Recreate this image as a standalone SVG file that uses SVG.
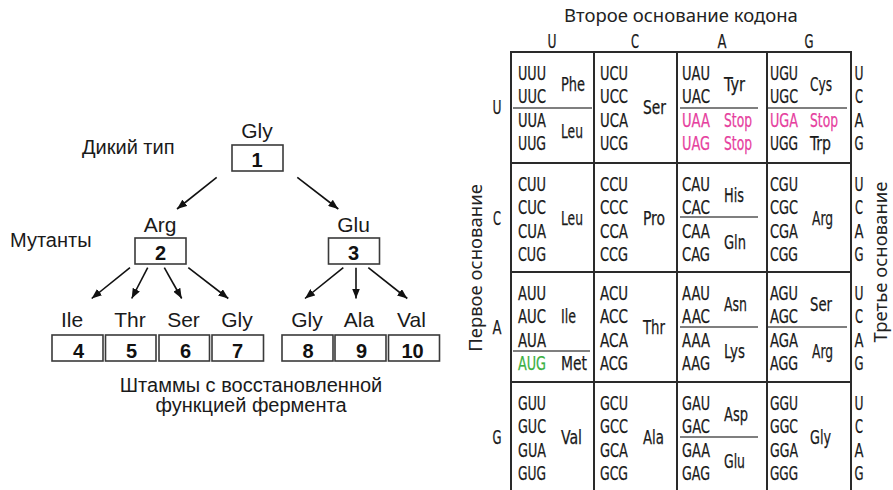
<svg xmlns="http://www.w3.org/2000/svg" width="893" height="490" viewBox="0 0 893 490">
<defs>
<marker id="ah" markerWidth="10" markerHeight="8" refX="10" refY="4" orient="auto" markerUnits="userSpaceOnUse"><path d="M0,0 L10,4 L0,8 z" fill="#111"/></marker>
<style>
.lb{font-family:"Liberation Sans",Arial,sans-serif;font-size:20px;fill:#1a1a1a}
.aa{font-family:"Liberation Sans",Arial,sans-serif;font-size:21px;fill:#1a1a1a;text-anchor:middle}
.num{font-family:"Liberation Sans",Arial,sans-serif;font-size:20px;font-weight:bold;fill:#111;text-anchor:middle}
.box{fill:#fff;stroke:#3a3a3a;stroke-width:1.6}
.con line{stroke:#111;stroke-width:1.6;marker-end:url(#ah)}
.ttl{font-family:"Noto Sans","Open Sans",sans-serif;font-size:18.5px;fill:#222}
.grid{stroke:#2a2a2a;stroke-width:2;fill:none}
.sep{stroke:#555;stroke-width:1.5}
.c{font-family:"Liberation Sans Narrow","DejaVu Sans Condensed","DejaVu Sans",sans-serif;font-stretch:condensed;font-size:19.5px;fill:#1a1a1a;stroke:#1a1a1a;stroke-width:0.25}
.m{fill:#e6409e;stroke:#e6409e}
.g{fill:#3cb043;stroke:#3cb043}
.mid{text-anchor:middle}
</style>
</defs>

<!-- Tree -->
<text class="lb" x="82" y="154">Дикий тип</text>
<text class="lb" x="10" y="246.5">Мутанты</text>
<text class="lb" x="251" y="391.5" text-anchor="middle">Штаммы с восстановленной</text>
<text class="lb" x="251" y="411.5" text-anchor="middle">функцией фермента</text>

<g id="n1"><text class="aa" x="257" y="138">Gly</text><rect class="box" x="232" y="145" width="51" height="26"/><text class="num" x="257" y="166.5">1</text></g>
<g id="n2"><text class="aa" x="160" y="231.5">Arg</text><rect class="box" x="135" y="238" width="51" height="26"/><text class="num" x="160.5" y="259.5">2</text></g>
<g id="n3"><text class="aa" x="353.5" y="231.5">Glu</text><rect class="box" x="328.5" y="238" width="51" height="26"/><text class="num" x="353.5" y="259.5">3</text></g>
<g id="n4"><text class="aa" x="72" y="327">Ile</text><rect class="box" x="52" y="335" width="51" height="26"/><text class="num" x="78.5" y="357.5">4</text></g>
<g id="n5"><text class="aa" x="130" y="327">Thr</text><rect class="box" x="105.5" y="335" width="50.5" height="26"/><text class="num" x="131.5" y="357.5">5</text></g>
<g id="n6"><text class="aa" x="183.5" y="327">Ser</text><rect class="box" x="159" y="335" width="50.5" height="26"/><text class="num" x="185.5" y="357.5">6</text></g>
<g id="n7"><text class="aa" x="237" y="327">Gly</text><rect class="box" x="212" y="335" width="51.5" height="26"/><text class="num" x="237.5" y="357.5">7</text></g>
<g id="n8"><text class="aa" x="307" y="327">Gly</text><rect class="box" x="282" y="335" width="51" height="26"/><text class="num" x="308" y="357.5">8</text></g>
<g id="n9"><text class="aa" x="359" y="327">Ala</text><rect class="box" x="335" y="335" width="51" height="26"/><text class="num" x="361.5" y="357.5">9</text></g>
<g id="n10"><text class="aa" x="411.5" y="327">Val</text><rect class="box" x="388.5" y="335" width="51" height="26"/><text class="num" x="412.5" y="357.5">10</text></g>

<g id="connectors" class="con">
<line x1="216.7" y1="177.3" x2="177" y2="209"/>
<line x1="297.3" y1="177.3" x2="338.3" y2="209"/>
<line x1="130" y1="267.7" x2="91.7" y2="298.5"/>
<line x1="147.7" y1="267.7" x2="131.7" y2="298.5"/>
<line x1="164.3" y1="267.7" x2="181.7" y2="298.5"/>
<line x1="188.3" y1="267.7" x2="228.3" y2="298.5"/>
<line x1="343.3" y1="267.7" x2="305" y2="298.5"/>
<line x1="356" y1="267.7" x2="356" y2="298.5"/>
<line x1="368.3" y1="267.7" x2="407.3" y2="298.5"/>
</g>

<!-- Codon table -->
<g id="table">
<text class="ttl" x="681" y="22" text-anchor="middle">Второе основание кодона</text>
<text class="ttl" transform="translate(482,268) rotate(-90)" text-anchor="middle">Первое основание</text>
<text class="ttl" transform="translate(887,262) rotate(-90)" text-anchor="middle">Третье основание</text>

<path class="grid" d="M511,490 V52 H851 V490 M594,52 V490 M677,52 V490 M767,52 V490 M511,163 H851 M511,272 H851 M511,382 H851"/>
<path class="sep" d="M513,108 H592 M680,108 H758 M768,108 H847 M680,217 H758 M513,351 H590 M680,327 H758 M768,327 H847 M680,437 H758"/>

<g class="c mid">
<text x="552" y="48" textLength="9" lengthAdjust="spacingAndGlyphs">U</text><text x="635" y="48" textLength="8" lengthAdjust="spacingAndGlyphs">C</text><text x="722" y="48" textLength="9" lengthAdjust="spacingAndGlyphs">A</text><text x="809" y="48" textLength="9" lengthAdjust="spacingAndGlyphs">G</text>
<text x="497" y="114" textLength="9" lengthAdjust="spacingAndGlyphs">U</text><text x="497" y="225" textLength="8" lengthAdjust="spacingAndGlyphs">C</text><text x="497" y="334" textLength="9" lengthAdjust="spacingAndGlyphs">A</text><text x="497" y="444" textLength="9" lengthAdjust="spacingAndGlyphs">G</text>
<text x="859" y="80" textLength="9" lengthAdjust="spacingAndGlyphs">U</text><text x="859" y="103" textLength="8" lengthAdjust="spacingAndGlyphs">C</text><text x="859" y="126.5" textLength="9" lengthAdjust="spacingAndGlyphs">A</text><text x="859" y="150" textLength="9" lengthAdjust="spacingAndGlyphs">G</text>
<text x="859" y="191" textLength="9" lengthAdjust="spacingAndGlyphs">U</text><text x="859" y="214" textLength="8" lengthAdjust="spacingAndGlyphs">C</text><text x="859" y="237.5" textLength="9" lengthAdjust="spacingAndGlyphs">A</text><text x="859" y="261" textLength="9" lengthAdjust="spacingAndGlyphs">G</text>
<text x="859" y="300" textLength="9" lengthAdjust="spacingAndGlyphs">U</text><text x="859" y="323" textLength="8" lengthAdjust="spacingAndGlyphs">C</text><text x="859" y="346.5" textLength="9" lengthAdjust="spacingAndGlyphs">A</text><text x="859" y="370" textLength="9" lengthAdjust="spacingAndGlyphs">G</text>
<text x="859" y="410" textLength="9" lengthAdjust="spacingAndGlyphs">U</text><text x="859" y="433" textLength="8" lengthAdjust="spacingAndGlyphs">C</text><text x="859" y="456.5" textLength="9" lengthAdjust="spacingAndGlyphs">A</text><text x="859" y="480" textLength="9" lengthAdjust="spacingAndGlyphs">G</text>
</g>

<g class="c">
<!-- U row -->
<text x="518" y="80" textLength="28" lengthAdjust="spacingAndGlyphs">UUU</text>
<text x="518" y="103" textLength="28" lengthAdjust="spacingAndGlyphs">UUC</text>
<text x="518" y="126.5" textLength="28" lengthAdjust="spacingAndGlyphs">UUA</text>
<text x="518" y="150" textLength="28" lengthAdjust="spacingAndGlyphs">UUG</text>
<text x="561" y="90.5" textLength="24" lengthAdjust="spacingAndGlyphs">Phe</text>
<text x="561" y="138" textLength="22" lengthAdjust="spacingAndGlyphs">Leu</text>
<text x="600" y="80" textLength="28" lengthAdjust="spacingAndGlyphs">UCU</text>
<text x="600" y="103" textLength="28" lengthAdjust="spacingAndGlyphs">UCC</text>
<text x="600" y="126.5" textLength="28" lengthAdjust="spacingAndGlyphs">UCA</text>
<text x="600" y="150" textLength="28" lengthAdjust="spacingAndGlyphs">UCG</text>
<text x="643" y="114" textLength="23" lengthAdjust="spacingAndGlyphs">Ser</text>
<text x="682" y="80" textLength="28" lengthAdjust="spacingAndGlyphs">UAU</text>
<text x="682" y="103" textLength="28" lengthAdjust="spacingAndGlyphs">UAC</text>
<text class="m" x="682" y="126.5" textLength="28" lengthAdjust="spacingAndGlyphs">UAA</text>
<text class="m" x="682" y="150" textLength="28" lengthAdjust="spacingAndGlyphs">UAG</text>
<text x="724" y="90.5" textLength="21" lengthAdjust="spacingAndGlyphs">Tyr</text>
<text class="m" x="724" y="126.5" textLength="28" lengthAdjust="spacingAndGlyphs">Stop</text>
<text class="m" x="724" y="150" textLength="28" lengthAdjust="spacingAndGlyphs">Stop</text>
<text x="770" y="80" textLength="28" lengthAdjust="spacingAndGlyphs">UGU</text>
<text x="770" y="103" textLength="28" lengthAdjust="spacingAndGlyphs">UGC</text>
<text class="m" x="770" y="126.5" textLength="28" lengthAdjust="spacingAndGlyphs">UGA</text>
<text x="770" y="150" textLength="28" lengthAdjust="spacingAndGlyphs">UGG</text>
<text x="810" y="90.5" textLength="22" lengthAdjust="spacingAndGlyphs">Cys</text>
<text class="m" x="810" y="126.5" textLength="28" lengthAdjust="spacingAndGlyphs">Stop</text>
<text x="810" y="150" textLength="21" lengthAdjust="spacingAndGlyphs">Trp</text>
<!-- C row -->
<text x="518" y="191" textLength="28" lengthAdjust="spacingAndGlyphs">CUU</text>
<text x="518" y="214" textLength="28" lengthAdjust="spacingAndGlyphs">CUC</text>
<text x="518" y="237.5" textLength="28" lengthAdjust="spacingAndGlyphs">CUA</text>
<text x="518" y="261" textLength="28" lengthAdjust="spacingAndGlyphs">CUG</text>
<text x="561" y="225" textLength="22" lengthAdjust="spacingAndGlyphs">Leu</text>
<text x="600" y="191" textLength="28" lengthAdjust="spacingAndGlyphs">CCU</text>
<text x="600" y="214" textLength="28" lengthAdjust="spacingAndGlyphs">CCC</text>
<text x="600" y="237.5" textLength="28" lengthAdjust="spacingAndGlyphs">CCA</text>
<text x="600" y="261" textLength="28" lengthAdjust="spacingAndGlyphs">CCG</text>
<text x="643" y="225" textLength="22" lengthAdjust="spacingAndGlyphs">Pro</text>
<text x="682" y="191" textLength="28" lengthAdjust="spacingAndGlyphs">CAU</text>
<text x="682" y="214" textLength="28" lengthAdjust="spacingAndGlyphs">CAC</text>
<text x="682" y="237.5" textLength="28" lengthAdjust="spacingAndGlyphs">CAA</text>
<text x="682" y="261" textLength="28" lengthAdjust="spacingAndGlyphs">CAG</text>
<text x="724" y="201.5" textLength="20" lengthAdjust="spacingAndGlyphs">His</text>
<text x="724" y="249" textLength="22" lengthAdjust="spacingAndGlyphs">Gln</text>
<text x="770" y="191" textLength="28" lengthAdjust="spacingAndGlyphs">CGU</text>
<text x="770" y="214" textLength="28" lengthAdjust="spacingAndGlyphs">CGC</text>
<text x="770" y="237.5" textLength="28" lengthAdjust="spacingAndGlyphs">CGA</text>
<text x="770" y="261" textLength="28" lengthAdjust="spacingAndGlyphs">CGG</text>
<text x="812" y="225" textLength="21" lengthAdjust="spacingAndGlyphs">Arg</text>
<!-- A row -->
<text x="518" y="300" textLength="28" lengthAdjust="spacingAndGlyphs">AUU</text>
<text x="518" y="323" textLength="28" lengthAdjust="spacingAndGlyphs">AUC</text>
<text x="518" y="346.5" textLength="28" lengthAdjust="spacingAndGlyphs">AUA</text>
<text class="g" x="518" y="370" textLength="28" lengthAdjust="spacingAndGlyphs">AUG</text>
<text x="561" y="323" textLength="15" lengthAdjust="spacingAndGlyphs">Ile</text>
<text x="561" y="370" textLength="26" lengthAdjust="spacingAndGlyphs">Met</text>
<text x="600" y="300" textLength="28" lengthAdjust="spacingAndGlyphs">ACU</text>
<text x="600" y="323" textLength="28" lengthAdjust="spacingAndGlyphs">ACC</text>
<text x="600" y="346.5" textLength="28" lengthAdjust="spacingAndGlyphs">ACA</text>
<text x="600" y="370" textLength="28" lengthAdjust="spacingAndGlyphs">ACG</text>
<text x="643" y="334" textLength="22" lengthAdjust="spacingAndGlyphs">Thr</text>
<text x="682" y="300" textLength="28" lengthAdjust="spacingAndGlyphs">AAU</text>
<text x="682" y="323" textLength="28" lengthAdjust="spacingAndGlyphs">AAC</text>
<text x="682" y="346.5" textLength="28" lengthAdjust="spacingAndGlyphs">AAA</text>
<text x="682" y="370" textLength="28" lengthAdjust="spacingAndGlyphs">AAG</text>
<text x="724" y="310.5" textLength="23" lengthAdjust="spacingAndGlyphs">Asn</text>
<text x="724" y="358" textLength="21" lengthAdjust="spacingAndGlyphs">Lys</text>
<text x="770" y="300" textLength="28" lengthAdjust="spacingAndGlyphs">AGU</text>
<text x="770" y="323" textLength="28" lengthAdjust="spacingAndGlyphs">AGC</text>
<text x="770" y="346.5" textLength="28" lengthAdjust="spacingAndGlyphs">AGA</text>
<text x="770" y="370" textLength="28" lengthAdjust="spacingAndGlyphs">AGG</text>
<text x="810" y="310.5" textLength="22" lengthAdjust="spacingAndGlyphs">Ser</text>
<text x="812" y="358" textLength="21" lengthAdjust="spacingAndGlyphs">Arg</text>
<!-- G row -->
<text x="518" y="410" textLength="28" lengthAdjust="spacingAndGlyphs">GUU</text>
<text x="518" y="433" textLength="28" lengthAdjust="spacingAndGlyphs">GUC</text>
<text x="518" y="456.5" textLength="28" lengthAdjust="spacingAndGlyphs">GUA</text>
<text x="518" y="480" textLength="28" lengthAdjust="spacingAndGlyphs">GUG</text>
<text x="561" y="444" textLength="21" lengthAdjust="spacingAndGlyphs">Val</text>
<text x="600" y="410" textLength="28" lengthAdjust="spacingAndGlyphs">GCU</text>
<text x="600" y="433" textLength="28" lengthAdjust="spacingAndGlyphs">GCC</text>
<text x="600" y="456.5" textLength="28" lengthAdjust="spacingAndGlyphs">GCA</text>
<text x="600" y="480" textLength="28" lengthAdjust="spacingAndGlyphs">GCG</text>
<text x="643" y="444" textLength="21" lengthAdjust="spacingAndGlyphs">Ala</text>
<text x="682" y="410" textLength="28" lengthAdjust="spacingAndGlyphs">GAU</text>
<text x="682" y="433" textLength="28" lengthAdjust="spacingAndGlyphs">GAC</text>
<text x="682" y="456.5" textLength="28" lengthAdjust="spacingAndGlyphs">GAA</text>
<text x="682" y="480" textLength="28" lengthAdjust="spacingAndGlyphs">GAG</text>
<text x="724" y="420.5" textLength="24" lengthAdjust="spacingAndGlyphs">Asp</text>
<text x="724" y="468" textLength="21" lengthAdjust="spacingAndGlyphs">Glu</text>
<text x="770" y="410" textLength="28" lengthAdjust="spacingAndGlyphs">GGU</text>
<text x="770" y="433" textLength="28" lengthAdjust="spacingAndGlyphs">GGC</text>
<text x="770" y="456.5" textLength="28" lengthAdjust="spacingAndGlyphs">GGA</text>
<text x="770" y="480" textLength="28" lengthAdjust="spacingAndGlyphs">GGG</text>
<text x="810" y="444" textLength="21" lengthAdjust="spacingAndGlyphs">Gly</text>
</g>
</g>
</svg>
